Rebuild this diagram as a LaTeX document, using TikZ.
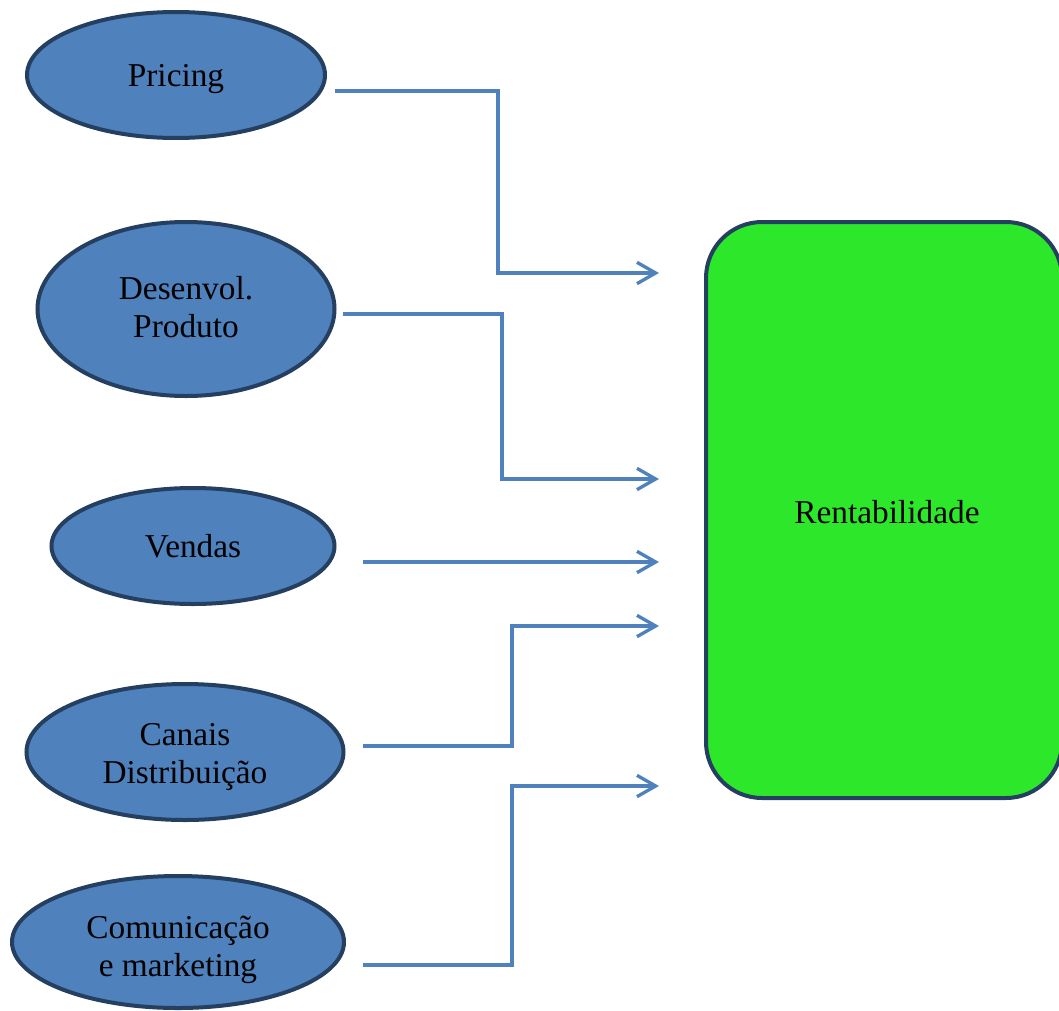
\documentclass[tikz,border=0pt]{standalone}
\usepackage{fontspec}
\setmainfont{Liberation Serif}
\usetikzlibrary{shapes.geometric,arrows.meta}
\definecolor{ellfill}{HTML}{4F81BD}
\definecolor{navy}{HTML}{243F60}
\definecolor{linkblue}{HTML}{4F81BD}
\definecolor{boxgreen}{HTML}{2DE82A}
\newcommand{\lowtext}[2]{\raisebox{-#1}[\height][\depth]{\begin{tabular}{@{}c@{}}#2\end{tabular}}}
\tikzset{
  oval/.style={ellipse, draw=navy, line width=3pt, fill=ellfill, inner sep=0pt,
    align=center, font=\fontsize{25}{28.5}\selectfont},
  bigbox/.style={rectangle, rounded corners=42pt, draw=navy, line width=3pt, fill=boxgreen,
    inner sep=0pt, font=\fontsize{25}{28}\selectfont},
  link/.style={draw=linkblue, line width=2.5pt, -{Straight Barb[length=14pt,width=16pt,line width=2.5pt]}}
}
\begin{document}
\begin{tikzpicture}[x=0.75pt,y=-0.75pt]
\useasboundingbox (0,0) rectangle (1059,1010);
\node[oval, minimum width=298*0.75pt, minimum height=126*0.75pt] (pr) at (176,75) {\lowtext{3pt}{Pricing}};
\node[oval, minimum width=297*0.75pt, minimum height=174*0.75pt] (dp) at (186,309) {\lowtext{1.5pt}{Desenvol.\\Produto}};
\node[oval, minimum width=283*0.75pt, minimum height=116*0.75pt] (ve) at (193,546) {Vendas};
\node[oval, minimum width=317*0.75pt, minimum height=136*0.75pt] (cd) at (185,752) {\lowtext{4pt}{Canais\\Distribuição}};
\node[oval, minimum width=332*0.75pt, minimum height=132*0.75pt] (cm) at (178,942) {\lowtext{6pt}{Comunicação\\e marketing}};
\node[bigbox, minimum width=356*0.75pt, minimum height=576*0.75pt] (re) at (884,510) {};
\node[font=\fontsize{25}{28}\selectfont] (rt) at (887,512) {Rentabilidade};
% connector endpoints
\coordinate (s1) at (335,91);  \coordinate (e1) at (659,273);
\coordinate (s2) at (343,314); \coordinate (e2) at (659,479);
\coordinate (s3) at (363,562); \coordinate (e3) at (659,562);
\coordinate (s4) at (363,746); \coordinate (e4) at (659,626);
\coordinate (s5) at (363,965); \coordinate (e5) at (659,786);
\draw[link] (s1) -- (498,91) -- (498,273) -- (e1);
\draw[link] (s2) -- (502,314) -- (502,479) -- (e2);
\draw[link] (s3) -- (e3);
\draw[link] (s4) -- (512,746) -- (512,626) -- (e4);
\draw[link] (s5) -- (512,965) -- (512,786) -- (e5);
\end{tikzpicture}
\end{document}
